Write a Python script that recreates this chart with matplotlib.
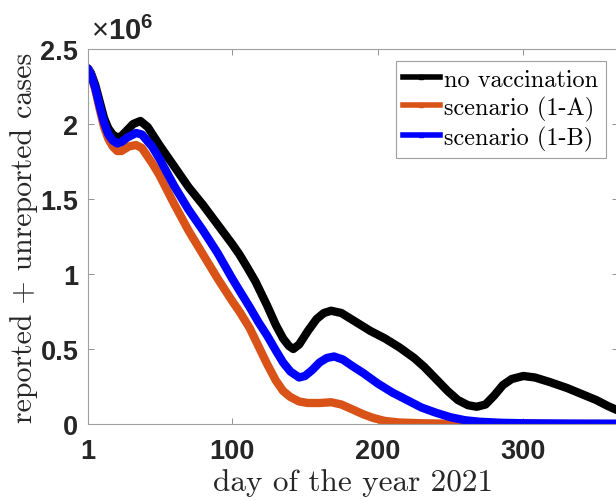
import matplotlib
matplotlib.use('Agg')
import matplotlib.pyplot as plt
from matplotlib.lines import Line2D

# values (cases in millions)
days_none = [1, 3, 6, 9, 12, 15, 18, 21, 24, 27, 32, 37, 42, 50, 60, 70, 80, 90, 100,
             105, 110, 116, 124, 130, 135, 139, 142, 146, 152, 158, 163, 168, 175, 185,
             195, 205, 215, 225, 232, 240, 248, 255, 262, 268, 274, 280, 286, 292, 300,
             308, 318, 330, 340, 350, 358, 365]
cases_none = [2.37, 2.34, 2.26, 2.15, 2.04, 1.97, 1.93, 1.91, 1.92, 1.95, 2.00, 2.02,
              1.98, 1.86, 1.72, 1.58, 1.46, 1.33, 1.20, 1.13, 1.05, 0.95, 0.79, 0.66,
              0.57, 0.52, 0.50, 0.53, 0.62, 0.70, 0.74, 0.755, 0.74, 0.68, 0.62, 0.57,
              0.51, 0.44, 0.38, 0.30, 0.22, 0.16, 0.125, 0.115, 0.13, 0.19, 0.26, 0.30,
              0.32, 0.31, 0.28, 0.24, 0.20, 0.16, 0.12, 0.09]

days_1a = [1, 3, 6, 9, 12, 15, 18, 21, 24, 29, 34, 38, 45, 50, 60, 70, 80, 90, 100,
           105, 112, 118, 124, 130, 135, 140, 146, 152, 160, 168, 175, 182, 190, 197,
           205, 215, 230, 250, 280, 320, 365]
cases_1a = [2.37, 2.33, 2.23, 2.10, 1.98, 1.90, 1.85, 1.82, 1.82, 1.85, 1.86, 1.84,
            1.74, 1.66, 1.47, 1.29, 1.13, 0.97, 0.82, 0.75, 0.64, 0.52, 0.40, 0.29,
            0.22, 0.18, 0.15, 0.14, 0.14, 0.145, 0.13, 0.10, 0.065, 0.04, 0.02, 0.01,
            0.005, 0.002, 0.001, 0.0, 0.0]

days_1b = [1, 3, 6, 9, 12, 15, 18, 21, 24, 28, 34, 38, 45, 50, 60, 70, 80, 90, 100,
           105, 112, 118, 124, 130, 135, 140, 146, 150, 155, 160, 165, 170, 176, 182,
           190, 200, 210, 220, 230, 240, 250, 260, 270, 285, 300, 330, 365]
cases_1b = [2.37, 2.33, 2.24, 2.12, 2.01, 1.93, 1.89, 1.87, 1.88, 1.91, 1.94, 1.93,
            1.85, 1.77, 1.59, 1.43, 1.29, 1.14, 0.97, 0.89, 0.78, 0.68, 0.59, 0.49,
            0.41, 0.35, 0.31, 0.32, 0.36, 0.41, 0.44, 0.45, 0.43, 0.39, 0.34, 0.27,
            0.21, 0.16, 0.11, 0.075, 0.045, 0.025, 0.015, 0.008, 0.005, 0.003, 0.002]

labels = ['no vaccination', 'scenario (1-A)', 'scenario (1-B)']
colors = ['black', '#D95319', '#0000FF']
x_ticks = [1, 100, 200, 300]
y_ticks = [0, 0.5, 1, 1.5, 2, 2.5]
y_ticklabels = ['0', '0.5', '1', '1.5', '2', '2.5']

plt.rcParams['mathtext.fontset'] = 'custom'
plt.rcParams['mathtext.rm'] = 'Liberation Sans'
plt.rcParams['mathtext.bf'] = 'Liberation Sans:bold'

fig = plt.figure(figsize=(6.16, 5.02), dpi=100)
ax = fig.add_axes([88 / 616, 77 / 502, 530 / 616, 375 / 502])

series = [(days_none, cases_none), (days_1a, cases_1a), (days_1b, cases_1b)]
for (d, c), col in zip(series, colors):
    ax.plot(d, [v * 1e6 for v in c], color=col, lw=6, solid_capstyle='round',
            solid_joinstyle='round')

ax.set_xlim(1, 365)
ax.set_ylim(0, 2.5e6)
ax.set_xticks(x_ticks)
ax.set_xticklabels([str(t) for t in x_ticks])
ax.set_yticks([t * 1e6 for t in y_ticks])
ax.set_yticklabels(y_ticklabels)

tick_gray = '#262626'
for lab in ax.get_xticklabels() + ax.get_yticklabels():
    lab.set_fontfamily('Liberation Sans')
    lab.set_fontweight('bold')
    lab.set_fontsize(19.5)
    lab.set_color(tick_gray)
ax.tick_params(direction='in', length=4, width=0.6, color='#808080', top=True,
               right=True)
ax.tick_params(axis='x', pad=10)
ax.tick_params(axis='y', pad=7)
for s in ax.spines.values():
    s.set_color('#a0a0a0')
    s.set_linewidth(0.8)

ax.text(0.005, 1.01, r'$\times\mathbf{10^{6}}$', transform=ax.transAxes,
        fontsize=21, color=tick_gray, va='bottom', ha='left')

ax.set_xlabel('day of the year 2021', fontfamily='cmr10', fontsize=22.5,
              color=tick_gray, labelpad=3)
ax.set_ylabel('reported + unreported cases', fontfamily='cmr10', fontsize=21.5,
              color=tick_gray, labelpad=2)

handles = [Line2D([], [], color=col, lw=4, marker='s', markersize=3)
           for col in colors]
leg = ax.legend(handles, labels, loc='upper right', prop={'family': 'cmr10', 'size': 17.5},
                handlelength=1.5, handletextpad=0.2, borderpad=0.3, labelspacing=0.2,
                fancybox=False, framealpha=1, borderaxespad=0.5)
leg.get_frame().set_edgecolor('#a0a0a0')
leg.get_frame().set_linewidth(0.8)

fig.savefig('out.png', dpi=100)
